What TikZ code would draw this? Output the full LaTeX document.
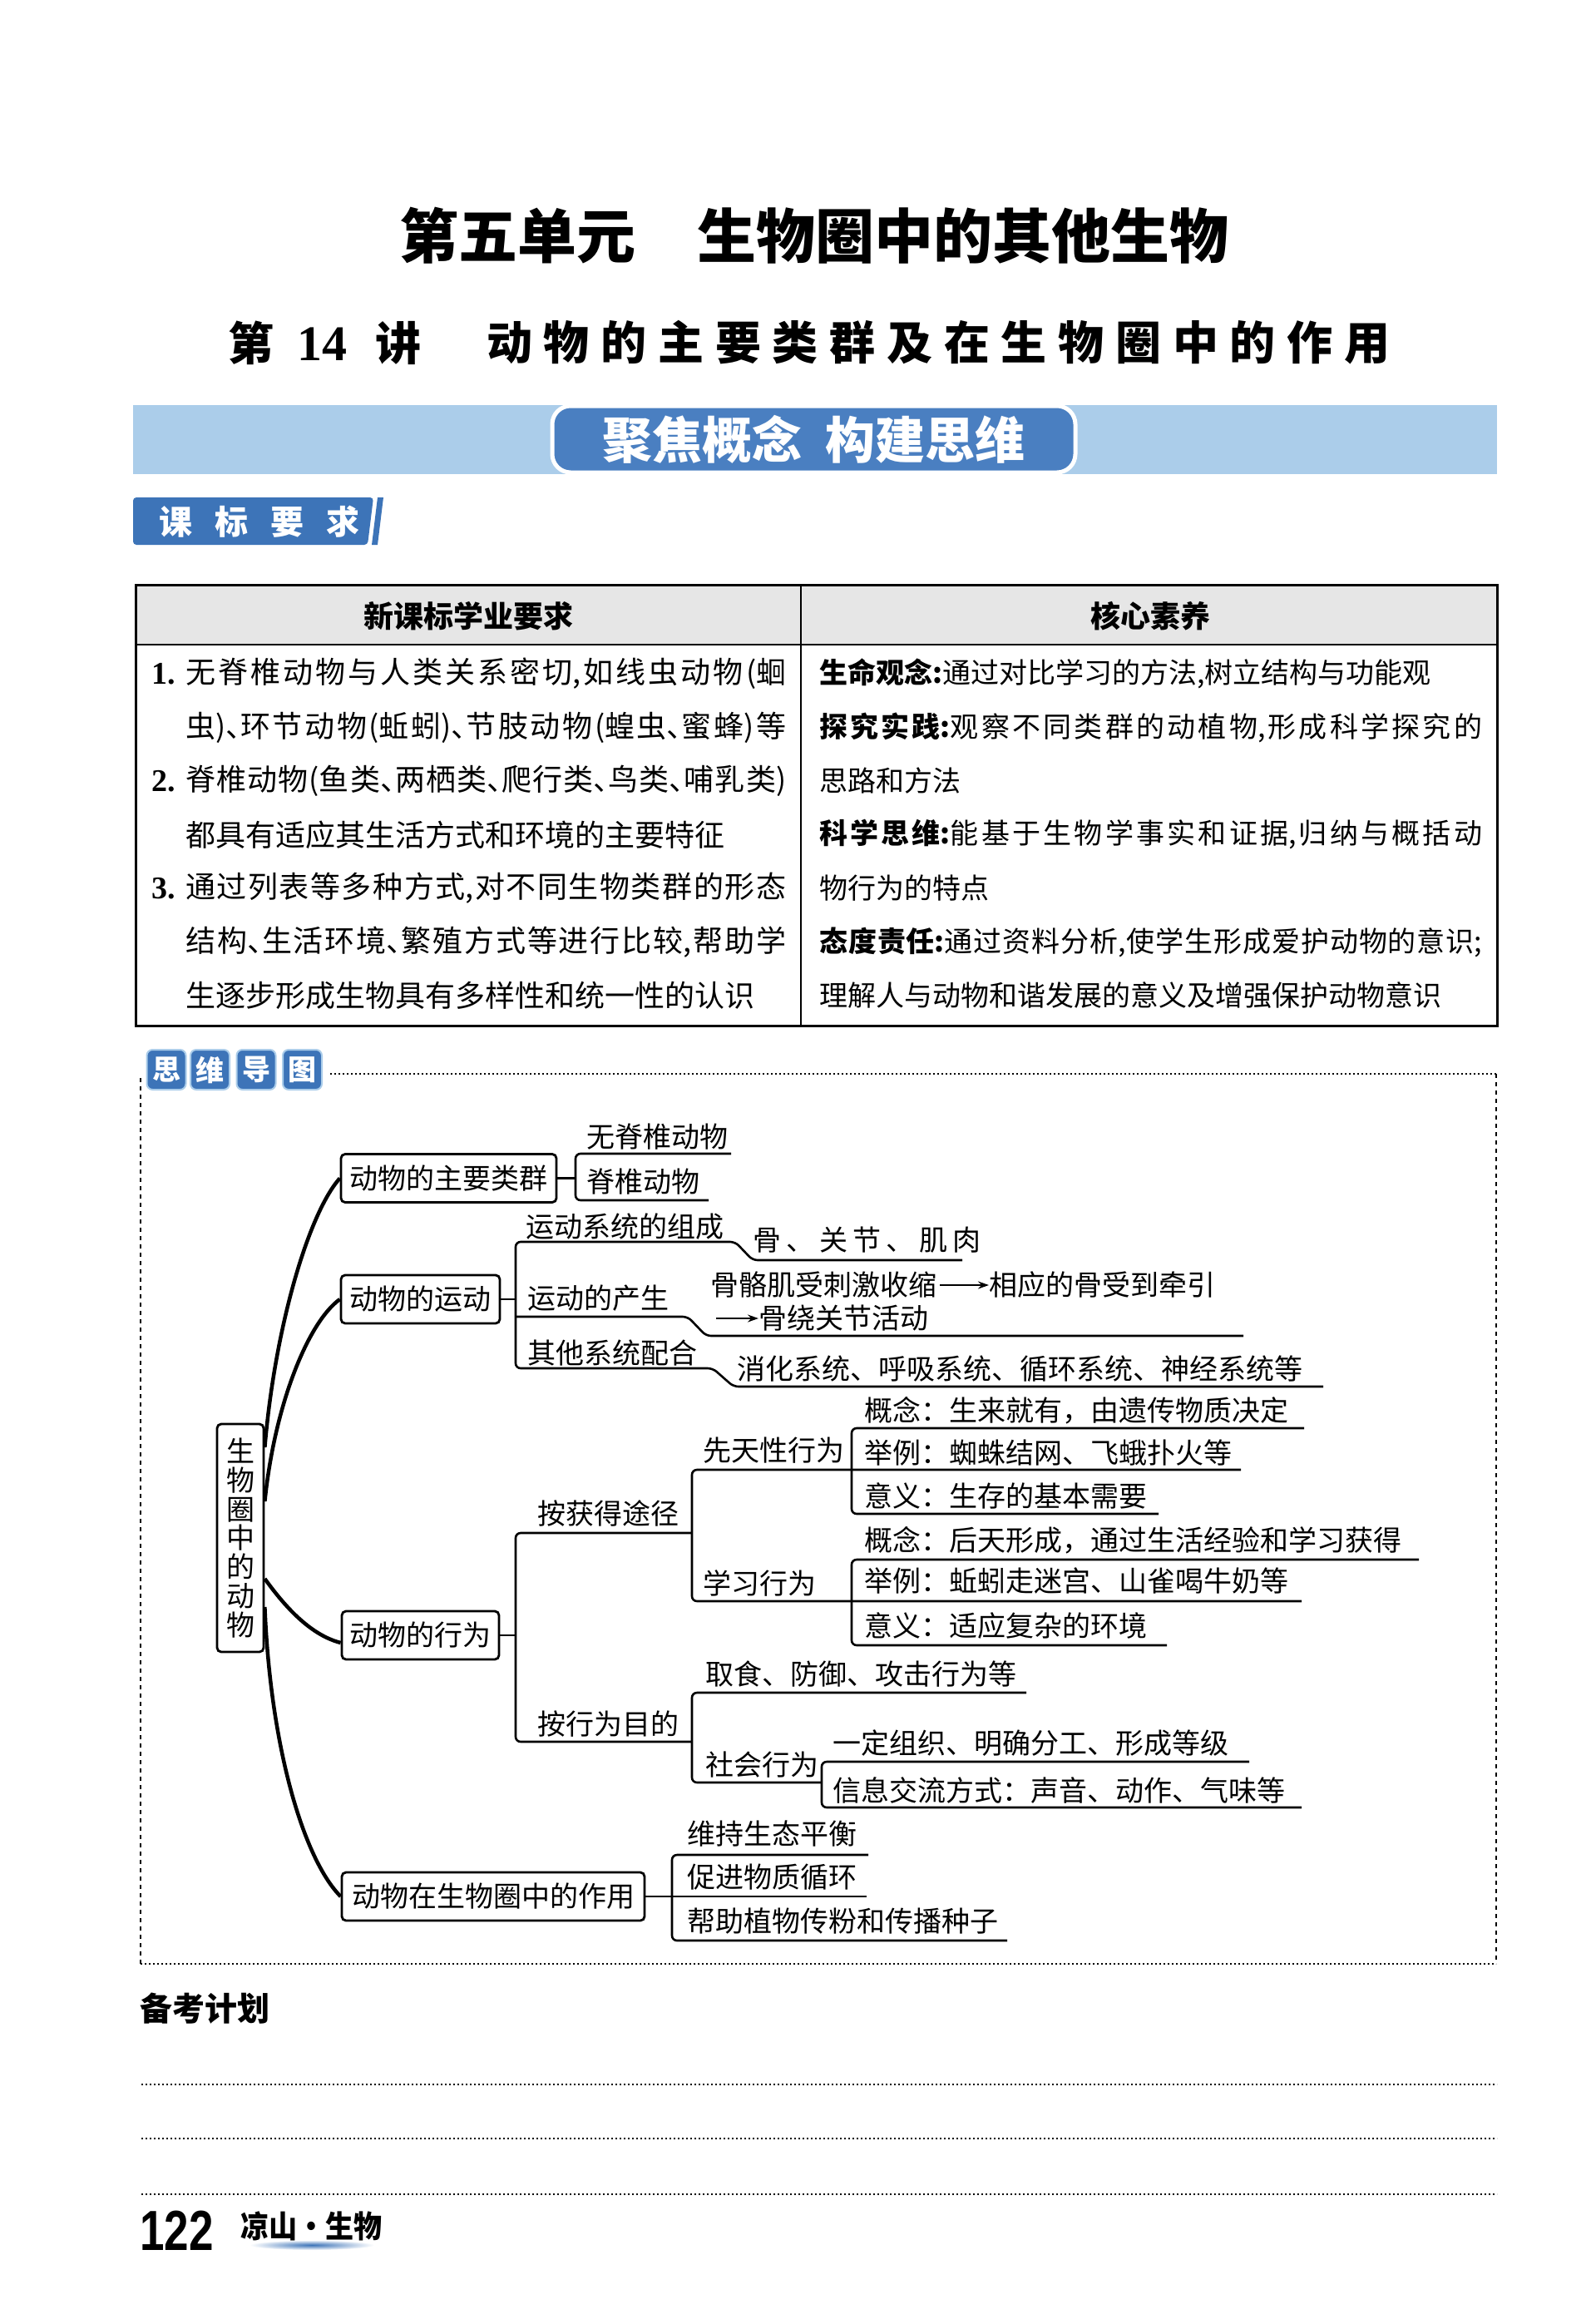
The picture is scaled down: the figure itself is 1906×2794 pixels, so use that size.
\documentclass[tikz,border=0pt]{standalone}
\usepackage{fontspec}
\setmainfont{Noto Sans CJK SC}
\newfontfamily\serifnum{Liberation Serif}
\newfontfamily\sansnum{Liberation Sans}
\usetikzlibrary{arrows.meta}
\XeTeXlinebreaklocale "zh"
\XeTeXlinebreakskip=0pt plus 4pt minus 1pt
\hbadness=10000
\makeatletter
\newcommand\spaced[2]{\def\sp@sep{}\@tfor\sp@c:=#2\do{\sp@sep\sp@c\def\sp@sep{\kern#1\relax}}}
\makeatother
\newcommand\jline[2]{\parbox{#1}{\parfillskip=0pt\relax\tolerance=10000\relax #2}}
\newcommand\dun{\makebox[0.5em][l]{、}}
\newcommand\mm{\fontsize{34pt}{40pt}\selectfont}
\newcommand\tabL{\fontsize{36pt}{42pt}\selectfont}
\newcommand\tabR{\fontsize{34pt}{40pt}\selectfont}
\definecolor{bandblue}{HTML}{ABCDEA}
\definecolor{darkblue}{HTML}{4A7FC1}
\definecolor{tabblue}{HTML}{3D74B8}
\definecolor{hdrgray}{HTML}{E6E6E6}
\begin{document}
\begin{tikzpicture}[x=1pt,y=-1pt,
  box/.style={draw, line width=2.8pt, rounded corners=5pt, inner sep=0pt, minimum height=58pt, font=\mm},
  lbl/.style={anchor=west, inner sep=0pt, font=\mm},
  br/.style={line width=2.6pt, rounded corners=6pt},
  curve/.style={line width=4.5pt},
  tb/.style={anchor=west, inner sep=0pt},
  arr/.style={line width=2pt, -{Stealth[length=13pt,width=9pt]}},
  dotline/.style={line width=1.6pt, dash pattern=on 2pt off 3pt},
  dashline/.style={line width=1.6pt, dash pattern=on 5pt off 5pt},
  tile/.style={fill=tabblue, draw=bandblue, line width=2pt, rounded corners=7pt, minimum width=47pt, minimum height=48pt, inner sep=0pt, text=white, font=\fontsize{34pt}{34pt}\selectfont\bfseries}
]
\useasboundingbox (0,0) rectangle (1906,2794);
\fill[white] (0,0) rectangle (1906,2794);

% titles
\node[font=\fontsize{71pt}{71pt}\selectfont\bfseries, inner sep=0pt] (t1) at (979,283) {第五单元\hspace{75pt}生物圈中的其他生物};
\node[font=\fontsize{55pt}{55pt}\selectfont\bfseries, inner sep=0pt] (t2a) at (302,412) {第};
\node[font=\fontsize{60pt}{60pt}\selectfont\serifnum\bfseries, inner sep=0pt] (t2b) at (387,414) {14};
\node[font=\fontsize{55pt}{55pt}\selectfont\bfseries, inner sep=0pt] (t2c) at (479,412) {讲};
\node[font=\fontsize{55pt}{55pt}\selectfont\bfseries, anchor=west, inner sep=0pt] (t2d) at (585,412) {\spaced{13.75pt}{动物的主要类群及在生物圈中的作用}};

% banner
\fill[bandblue] (160,487) rectangle (1800,570);
\node[fill=darkblue, draw=white, line width=5pt, rounded corners=22pt, minimum width=629pt, minimum height=80pt, inner sep=0pt, font=\fontsize{60pt}{60pt}\selectfont\bfseries, text=white] (ban) at (978.5,528) {聚焦概念\hspace{28pt}构建思维};

% tab
\fill[tabblue, rounded corners=4pt] (160,598) -- (449,598) -- (442,655) -- (160,655) -- cycle;
\fill[tabblue] (454,598) -- (461,598) -- (454,655) -- (447,655) -- cycle;
\node[font=\fontsize{40pt}{40pt}\selectfont\bfseries, text=white, inner sep=0pt] (tab) at (312,627) {\spaced{27pt}{课标要求}};

% table
\fill[hdrgray] (163,703) rectangle (1800,775);
\draw[line width=3pt] (163,703) rectangle (1800,1233);
\draw[line width=2pt] (163,775) -- (1800,775);
\draw[line width=1.6pt] (963,703) -- (963,1233);
\node[font=\fontsize{36pt}{36pt}\selectfont\bfseries, inner sep=0pt] (h1) at (563,741) {新课标学业要求};
\node[font=\fontsize{36pt}{36pt}\selectfont\bfseries, inner sep=0pt] (h2) at (1383,741) {核心素养};

\node[tb, font=\fontsize{38pt}{38pt}\selectfont\serifnum\bfseries] (n1) at (182,810) {1.};
\node[tb, font=\fontsize{38pt}{38pt}\selectfont\serifnum\bfseries] (n2) at (182,939) {2.};
\node[tb, font=\fontsize{38pt}{38pt}\selectfont\serifnum\bfseries] (n3) at (182,1068) {3.};
\node[tb, font=\tabL] (l1) at (223,810) {\jline{722pt}{无脊椎动物与人类关系密切,如线虫动物(蛔}};
\node[tb, font=\tabL] (l2) at (223,874.5) {\jline{722pt}{虫)\dun 环节动物(蚯蚓)\dun 节肢动物(蝗虫\dun 蜜蜂)等}};
\node[tb, font=\tabL] (l3) at (223,939) {\jline{722pt}{脊椎动物(鱼类\dun 两栖类\dun 爬行类\dun 鸟类\dun 哺乳类)}};
\node[tb, font=\tabL] (l4) at (223,1003.5) {都具有适应其生活方式和环境的主要特征};
\node[tb, font=\tabL] (l5) at (223,1068) {\jline{722pt}{通过列表等多种方式,对不同生物类群的形态}};
\node[tb, font=\tabL] (l6) at (223,1132.5) {\jline{722pt}{结构\dun 生活环境\dun 繁殖方式等进行比较,帮助学}};
\node[tb, font=\tabL] (l7) at (223,1197) {生逐步形成生物具有多样性和统一性的认识};

\node[tb, font=\tabR] (r1) at (985,810) {{\bfseries 生命观念:}通过对比学习的方法,树立结构与功能观};
\node[tb, font=\tabR] (r2) at (985,874.5) {\jline{797pt}{{\bfseries 探究实践:}观察不同类群的动植物,形成科学探究的}};
\node[tb, font=\tabR] (r3) at (985,939) {思路和方法};
\node[tb, font=\tabR] (r4) at (985,1003.5) {\jline{797pt}{{\bfseries 科学思维:}能基于生物学事实和证据,归纳与概括动}};
\node[tb, font=\tabR] (r5) at (985,1068) {物行为的特点};
\node[tb, font=\tabR] (r6) at (985,1132.5) {\jline{797pt}{{\bfseries 态度责任:}通过资料分析,使学生形成爱护动物的意识;}};
\node[tb, font=\tabR] (r7) at (985,1197) {理解人与动物和谐发展的意义及增强保护动物意识};

% mind map header tiles
\node[tile] (tl1) at (200,1286) {思};
\node[tile] (tl2) at (252.5,1286) {维};
\node[tile] (tl3) at (308,1286) {导};
\node[tile] (tl4) at (363.5,1286) {图};

% dotted frame
\draw[dotline] (397,1291) -- (1799,1291);
\draw[dotline] (169,2361) -- (1799,2361);
\draw[dashline] (1799,1291) -- (1799,2361);
\draw[dashline] (169,1296) -- (169,2361);

% mind map boxes
\node[box, minimum width=56pt, minimum height=274pt, align=center, font=\fontsize{34pt}{34.8pt}\selectfont] (M) at (289,1849) {生\\物\\圈\\中\\的\\动\\物};
\node[box, minimum width=259pt] (A) at (539.5,1416.5) {动物的主要类群};
\node[box, minimum width=191pt] (B) at (505.5,1562) {动物的运动};
\node[box, minimum width=189pt] (C) at (505.5,1966) {动物的行为};
\node[box, minimum width=364pt] (D) at (593,2280) {动物在生物圈中的作用};

\draw[curve] ([yshift=109pt]M.east) .. controls (330,1600) and (370,1460) .. (A.west);
\draw[curve] ([yshift=44pt]M.east) .. controls (330,1690) and (370,1590) .. (B.west);
\draw[curve] ([yshift=-49pt]M.east) .. controls (345,1935) and (375,1966) .. ([yshift=-9pt]C.west);
\draw[curve] ([yshift=-83pt]M.east) .. controls (325,2100) and (365,2235) .. (D.west);

% group A
\coordinate (a0) at (692,1416.5);
\draw[br] (A.east) -- (a0);
\draw[br] (879,1387) -- (692,1387) -- (692,1443) -- (852,1443);
\node[lbl] (a1) at (705,1367) {无脊椎动物};
\node[lbl] (a2) at (705,1421) {脊椎动物};

% group B
\coordinate (b0) at (620,1562);
\draw[br] (B.east) -- (b0);
\draw[br] (1157,1515) -- (905,1515) -- (884,1493) -- (620,1493) -- (620,1645) -- (857,1645) -- (882,1667) -- (1591,1667);
\draw[br] (620,1583) -- (827,1583) -- (849,1606) -- (1495,1606);
\node[lbl] (b1) at (632,1475) {运动系统的组成};
\node[lbl] (b1a) at (905,1491) {\spaced{6pt}{骨、关节、肌肉}};
\node[lbl] (b2) at (634,1561) {运动的产生};
\node[lbl] (b2a) at (854,1545) {骨骼肌受刺激收缩};
\node[lbl] (b2b) at (1189,1545) {相应的骨受到牵引};
\draw[arr] ([xshift=4pt]b2a.east) -- (b2b.west);
\coordinate (b2s) at (861,1585);
\node[lbl] (b2c) at (912,1585) {骨绕关节活动};
\draw[arr] (b2s) -- (b2c.west);
\node[lbl] (b3) at (634,1626) {其他系统配合};
\node[lbl] (b3a) at (886,1646) {消化系统、呼吸系统、循环系统、神经系统等};

% group C
\coordinate (c0) at (620,1966);
\draw[br] (C.east) -- (c0);
\draw[br] (832,1843) -- (620,1843) -- (620,2094) -- (832,2094);
\draw[br] (1492,1767) -- (832,1767) -- (832,1925) -- (1565,1925);
\draw[br] (1568,1717) -- (1024,1717) -- (1024,1820) -- (1393,1820);
\draw[br] (1706,1875) -- (1024,1875) -- (1024,1978) -- (1403,1978);
\draw[br] (1234,2035) -- (832,2035) -- (832,2143) -- (988,2143);
\draw[br] (1502,2118) -- (988,2118) -- (988,2173) -- (1565,2173);
\node[lbl] (c1) at (646,1819) {按获得途径};
\node[lbl] (c2) at (646,2073) {按行为目的};
\node[lbl] (c11) at (845,1744) {先天性行为};
\node[lbl] (c12) at (845,1903) {学习行为};
\node[lbl] (c111) at (1039,1696) {概念：生来就有，由遗传物质决定};
\node[lbl] (c112) at (1039,1746) {举例：蜘蛛结网、飞蛾扑火等};
\node[lbl] (c113) at (1039,1798) {意义：生存的基本需要};
\node[lbl] (c121) at (1039,1852) {概念：后天形成，通过生活经验和学习获得};
\node[lbl] (c122) at (1039,1901) {举例：蚯蚓走迷宫、山雀喝牛奶等};
\node[lbl] (c123) at (1039,1955) {意义：适应复杂的环境};
\node[lbl] (c21) at (848,2012) {取食、防御、攻击行为等};
\node[lbl] (c22) at (848,2122) {社会行为};
\node[lbl] (c221) at (1001,2096) {一定组织、明确分工、形成等级};
\node[lbl] (c222) at (1001,2152) {信息交流方式：声音、动作、气味等};

% group D
\coordinate (d0) at (1042,2280);
\draw[br] (D.east) -- (d0);
\draw[br] (1044,2230) -- (808,2230) -- (808,2333) -- (1211,2333);
\node[lbl] (d1) at (826,2205) {维持生态平衡};
\node[lbl] (d2) at (826,2257) {促进物质循环};
\node[lbl] (d3) at (826,2309) {帮助植物传粉和传播种子};

% bottom
\node[anchor=west, inner sep=0pt, font=\fontsize{39pt}{39pt}\selectfont\bfseries] (plan) at (168,2415) {备考计划};
\draw[dotline] (170,2506) -- (1800,2506);
\draw[dotline] (170,2571) -- (1800,2571);
\draw[dotline] (170,2638) -- (1800,2638);
\node[anchor=west, inner sep=0pt, font=\fontsize{68pt}{68pt}\selectfont\sansnum\bfseries, xscale=0.78] (pg) at (168,2682) {122};
\shade[inner color=tabblue, outer color=white] (375,2699) ellipse [x radius=75pt, y radius=6pt];
\node[anchor=west, inner sep=0pt, font=\fontsize{37pt}{37pt}\selectfont\bfseries, xscale=0.92] (ls) at (289,2676) {凉山·生物};
\end{tikzpicture}
\end{document}
